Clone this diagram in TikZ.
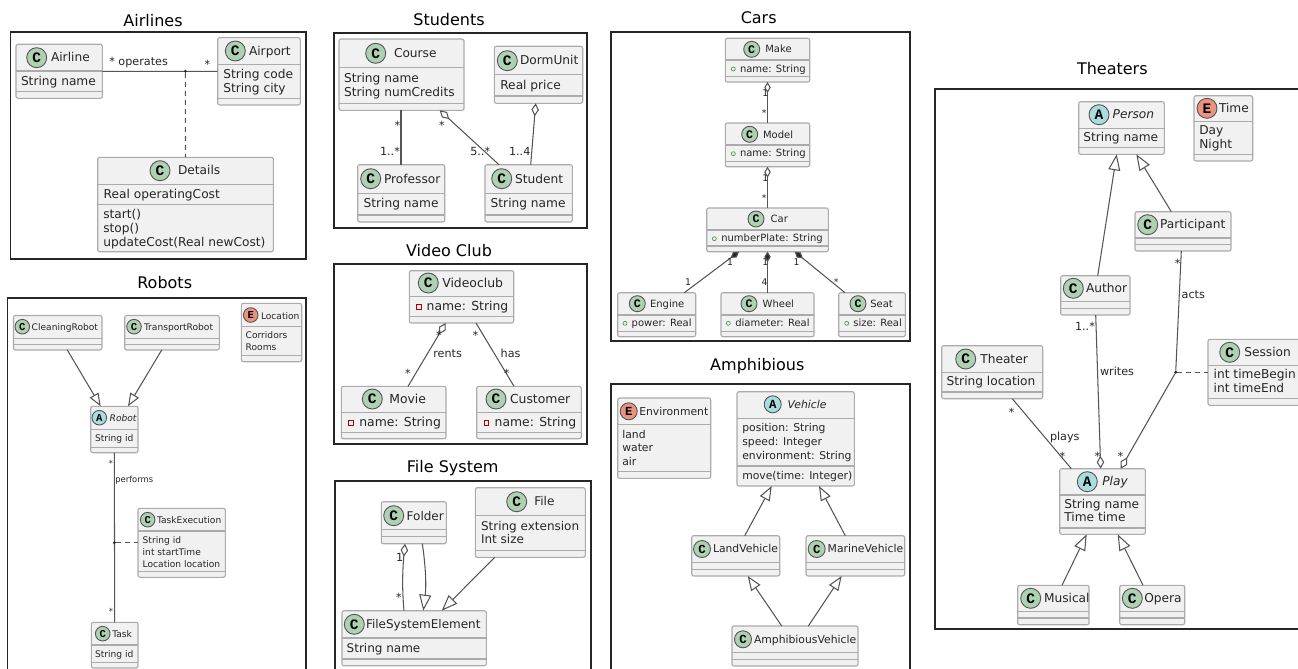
\documentclass[tikz,border=0pt]{standalone}
\usepackage{fontspec}
\setmainfont{DejaVu Sans}
\newfontfamily\spotfont{Liberation Mono}
\usetikzlibrary{arrows.meta,calc}
\definecolor{boxfill}{HTML}{F1F1F1}
\definecolor{boxline}{HTML}{ABABAB}
\definecolor{conline}{HTML}{555555}
\definecolor{inktext}{HTML}{262626}
\definecolor{spotC}{HTML}{ADD1B2}
\definecolor{spotA}{HTML}{A9DCDF}
\definecolor{spotE}{HTML}{EB937F}
\newcounter{ulabn}
\newcommand\fsel[1]{\fontsize{#1}{#1}\selectfont}
\tikzset{
  umlbox/.style={draw=boxline,fill=boxfill,line width=1.1pt,rounded corners=2pt,inner sep=0pt,outer sep=0pt},
  umlsep/.style={draw=boxline,line width=1.1pt},
  spot/.style={circle,draw=conline,line width=.9pt,inner sep=0pt,outer sep=0pt,text=black},
  utext/.style={inner sep=0pt,outer sep=0pt,text=inktext,anchor=base west},
  frame/.style={draw=black!85,line width=1.7pt},
  con/.style={draw=conline,line width=1.05pt},
  dashcon/.style={con,dash pattern=on 5pt off 4pt},
  assocdot/.style={circle,fill=black!85,minimum size=3.2pt,inner sep=0pt,outer sep=0pt},
  genS/.style={-{Triangle[open,fill=white,length=13pt,width=10pt]}},
  genM/.style={-{Triangle[open,fill=white,length=14.5pt,width=11pt]}},
  genL/.style={-{Triangle[open,fill=white,length=16pt,width=12pt]}},
  aggL/.style={{Diamond[open,fill=white,length=13pt,width=7.5pt]}-},
  aggM/.style={{Diamond[open,fill=white,length=11pt,width=6.5pt]}-},
  compM/.style={{Diamond[fill=black!85,length=10.5pt,width=6.5pt]}-},
}
% x1 y1 x2 y2 sep1 sep2
\newcommand\ubox[7]{%
  \pgfmathsetmacro\uw{#4-#2}\pgfmathsetmacro\uh{#5-#3}%
  \pgfmathsetmacro\ucx{(#4+#2)/2}\pgfmathsetmacro\ucy{(#5+#3)/2}%
  \node[umlbox,minimum width=\uw pt,minimum height=\uh pt] (#1) at (\ucx,\ucy) {};
  \draw[umlsep] (#1.west |- 0,#6) -- (#1.east |- 0,#6);
  \draw[umlsep] (#1.west |- 0,#7) -- (#1.east |- 0,#7);
}
% name letter cx cy titlex baseline title
\newcommand\uhead[7]{%
  \pgfmathsetmacro\ud{2*\rad}\pgfmathsetmacro\ulet{1.45*\rad}%
  \node[spot,fill=spot#2,minimum size=\ud pt,font=\spotfont\bfseries\fsel{\ulet}] (#1-spot) at (#3,#4) {#2};
  \node[utext,font=\fsel{\fsz}] (#1-title) at (#5,#6) {#7};
}
\newcommand\umem[3]{\stepcounter{ulabn}\node[utext,font=\fsel{\fsz}] (m\arabic{ulabn}) at (#1,#2) {#3};}
\newcommand\ulab[3]{\stepcounter{ulabn}\node[utext,font=\fsel{\lsz}] (m\arabic{ulabn}) at (#1,#2) {#3};}
\newcommand\ustar[2]{\stepcounter{ulabn}\pgfmathsetmacro\uby{#2+0.5*\lsz}\node[inner sep=0pt,outer sep=0pt,text=inktext,anchor=base,font=\fsel{\lsz}] (m\arabic{ulabn}) at (#1,\uby) {*};}
\newcommand\uprivate[2]{\stepcounter{ulabn}\node[draw=red!70!black,line width=.7pt,fill=none,minimum size=4.6pt,inner sep=0pt] (m\arabic{ulabn}) at (#1,#2) {};}
\newcommand\upublic[2]{\stepcounter{ulabn}\node[circle,draw=green!45!black!70,line width=.7pt,fill=none,minimum size=4pt,inner sep=0pt] (m\arabic{ulabn}) at (#1,#2) {};}
\newcommand\utitle[3]{\stepcounter{ulabn}\pgfmathsetmacro\uby{#2+5.7}\node[inner sep=0pt,outer sep=0pt,text=black,anchor=base,font=\fsel{16}] (t\arabic{ulabn}) at (#1,\uby) {#3};}
\begin{document}
\begin{tikzpicture}[x=1pt,y=-1pt]
\useasboundingbox (0,0) rectangle (1298,669);
\clip (0,0) rectangle (1298,669);
\fill[white] (0,0) rectangle (1298,669);

%%%% Airlines
\def\fsz{12.2}\def\lsz{11.2}\def\rad{10}
\utitle{153}{21}{Airlines}
\draw[frame] (10.5,32) rectangle (306,259);
\ubox{airline}{16}{44.3}{102.3}{98.3}{71}{91.7}
\uhead{airline}{C}{36.7}{57.7}{51}{62}{Airline}
\umem{21}{85.7}{String name}
\ubox{airport}{217.7}{37.7}{300.3}{105}{64.7}{98.3}
\uhead{airport}{C}{235.3}{51}{249}{55.3}{Airport}
\umem{223.3}{78.7}{String code}
\umem{223.3}{92.3}{String city}
\ubox{details}{97.7}{157.3}{273.3}{251.7}{184.3}{204.3}
\uhead{details}{C}{160}{170.7}{178}{174.7}{Details}
\umem{103.7}{198}{Real operatingCost}
\umem{103.3}{218}{start()}
\umem{103.3}{232}{stop()}
\umem{103.3}{246}{updateCost(Real newCost)}
\draw[con] (airline.east) -- (airport.west);
\node[assocdot] (airdot) at (185.4,71.3) {};
\draw[dashcon] (airdot) -- (details.north);
\ulab{109.3}{66}{* operates}
\ustar{207.3}{63.3}

%%%% Robots
\def\fsz{9.1}\def\lsz{8.4}\def\rad{7.3}
\utitle{164.7}{283}{Robots}
\draw[frame] (7.5,297.7) rectangle (306,690);
\ubox{cleaning}{13.5}{315.5}{102}{350}{338.7}{344.7}
\uhead{cleaning}{C}{22.3}{326.7}{31.7}{330}{CleaningRobot}
\ubox{transport}{124.7}{315.5}{219.3}{350}{338.7}{344.7}
\uhead{transport}{C}{134}{326.7}{144}{330}{TransportRobot}
\ubox{location}{241.3}{303.3}{301.7}{361.7}{326.3}{355.7}
\uhead{location}{E}{250.7}{315}{261}{319}{Location}
\umem{245.7}{338.7}{Corridors}
\umem{245.7}{350.3}{Rooms}
\ubox{robot}{90.7}{406.3}{138}{452.7}{429.3}{447.3}
\uhead{robot}{A}{99.3}{417.7}{109.7}{421.7}{\itshape Robot}
\umem{95}{441.7}{String id}
\ubox{taskexec}{138}{508.3}{225.3}{577.3}{531}{571.3}
\uhead{taskexec}{C}{147.7}{519.7}{157}{523.3}{TaskExecution}
\umem{142.7}{543.3}{String id}
\umem{142.7}{555}{int startTime}
\umem{142.7}{567.3}{Location location}
\ubox{task}{91.3}{622.3}{138}{668}{645}{662.7}
\uhead{task}{C}{102.7}{633.7}{112.3}{637.7}{Task}
\umem{95}{657.7}{String id}
\draw[con,genS] (67.3,0 |- cleaning.south) -- (100.7,0 |- robot.north);
\draw[con,genS] (161.7,0 |- transport.south) -- (128,0 |- robot.north);
\draw[con] (robot.south) -- (task.north);
\node[assocdot] (robdot) at (114.4,542.7) {};
\draw[dashcon] (robdot) -- (taskexec.west |- robdot);
\ustar{111}{462}
\ulab{115.3}{482.7}{performs}
\ustar{111}{610}

%%%% Students
\def\fsz{12.2}\def\lsz{11.2}\def\rad{10}
\utitle{449}{20}{Students}
\draw[frame] (334,32.7) rectangle (586.7,227.7);
\ubox{course}{339}{39}{464}{110.3}{67.3}{103.3}
\uhead{course}{C}{375.7}{53.3}{394}{57.3}{Course}
\umem{344}{82}{String name}
\umem{344}{96}{String numCredits}
\ubox{dorm}{494.3}{46.3}{582.7}{103.3}{74.7}{96}
\uhead{dorm}{C}{507.3}{60.7}{520}{65}{DormUnit}
\umem{500.3}{89.3}{Real price}
\ubox{professor}{357.7}{164.7}{444.7}{222}{193.3}{215}
\uhead{professor}{C}{370.7}{178.7}{384}{183.3}{Professor}
\umem{363.7}{207.3}{String name}
\ubox{student}{485}{164.7}{572.3}{222}{193.3}{215}
\uhead{student}{C}{501.7}{178.7}{515}{183.3}{Student}
\umem{490.7}{207.3}{String name}
\draw[con] (401,0 |- course.south) -- (401,0 |- professor.north);
\draw[con,aggL] (439.7,0 |- course.south) -- (499,0 |- student.north);
\draw[con,aggL] (535.7,0 |- dorm.south) -- (530.7,0 |- student.north);
\ustar{397.3}{123.7}
\ulab{380}{155}{1..*}
\ustar{442}{123.7}
\ulab{470.3}{155}{5..*}
\ulab{509}{155}{1..4}

%%%% Video Club
\def\fsz{12.4}
\utitle{449}{250.3}{Video Club}
\draw[frame] (334,263.7) rectangle (586.7,444);
\ubox{videoclub}{409.3}{270.7}{513.7}{323}{296.7}{316.7}
\uhead{videoclub}{C}{428.3}{283}{442.3}{287.3}{Videoclub}
\uprivate{419}{307}
\umem{426.7}{310.3}{name: String}
\ubox{movie}{341.3}{386.3}{446}{438.7}{412.3}{432.3}
\uhead{movie}{C}{372.3}{399}{389.3}{403.3}{Movie}
\uprivate{351}{422.7}
\umem{359.3}{426.3}{name: String}
\ubox{customer}{476.7}{386.3}{581.3}{438.7}{412.3}{432.3}
\uhead{customer}{C}{496}{399}{510}{403.3}{Customer}
\uprivate{486.3}{422.7}
\umem{494.7}{426.3}{name: String}
\draw[con,aggL] (445.7,0 |- videoclub.south) -- (408,0 |- movie.north);
\draw[con] (476,0 |- videoclub.south) -- (514,0 |- customer.north);
\ustar{439}{334}
\ulab{433.3}{357.3}{rents}
\ustar{408}{372}
\ustar{475.3}{334}
\ulab{500.7}{357.3}{has}
\ustar{506.7}{372}

%%%% File System
\def\fsz{12}
\utitle{452.7}{466.7}{File System}
\draw[frame] (334.7,481) rectangle (591,690);
\ubox{folder}{381.3}{501.7}{446.3}{543.7}{529.7}{536.7}
\uhead{folder}{C}{393.7}{515.7}{406.7}{520}{Folder}
\ubox{file}{475.3}{487.7}{585.3}{557.3}{515.3}{550.3}
\uhead{file}{C}{516.7}{501.7}{534.3}{505.7}{File}
\umem{481}{530}{String extension}
\umem{481}{543.7}{Int size}
\ubox{fse}{342}{610.7}{486.3}{665.7}{638}{659}
\uhead{fse}{C}{354.3}{624.3}{366}{628.3}{FileSystemElement}
\umem{346.7}{652.3}{String name}
\draw[con,aggL] (405,0 |- folder.south) .. controls (402.5,570) and (402,590) .. (404,0 |- fse.north);
\draw[con,genL] (422.3,0 |- folder.south) .. controls (425.5,565) and (426.5,585) .. (423.3,0 |- fse.north);
\draw[con,genL] (494.7,0 |- file.south) -- (441.7,0 |- fse.north);
\ulab{396}{561.7}{1}
\ustar{399}{595.7}

%%%% Cars
\def\fsz{10}\def\lsz{9.3}\def\rad{8}
\utitle{758.7}{18.3}{Cars}
\draw[frame] (611.3,32.3) rectangle (909.7,340.7);
\ubox{make}{725.3}{38.3}{809.7}{82}{60}{76.3}
\uhead{make}{C}{751.7}{49.3}{765.3}{52.7}{Make}
\upublic{733.3}{69}
\umem{740}{72}{name: String}
\ubox{model}{725.3}{123}{809.7}{166.7}{145}{161.3}
\uhead{model}{C}{749.7}{134.3}{763}{138}{Model}
\upublic{733.3}{153.7}
\umem{740}{156.7}{name: String}
\ubox{car}{706.7}{208}{828.3}{251.7}{230}{246}
\uhead{car}{C}{756}{219}{770.7}{222.7}{Car}
\upublic{714.3}{238.7}
\umem{721.3}{241.3}{numberPlate: String}
\ubox{engine}{617.7}{292.7}{695.7}{336.7}{315}{331.3}
\uhead{engine}{C}{637.3}{303.7}{650}{307.3}{Engine}
\upublic{625}{323.3}
\umem{631.7}{326}{power: Real}
\ubox{wheel}{721}{292.7}{814}{336.7}{315}{331.3}
\uhead{wheel}{C}{749}{303.7}{762.7}{307.3}{Wheel}
\upublic{728.3}{323.3}
\umem{735.3}{326}{diameter: Real}
\ubox{seat}{838.7}{292.7}{905.3}{336.7}{315}{331.3}
\uhead{seat}{C}{858}{303.7}{870.3}{307.3}{Seat}
\upublic{846.7}{323.3}
\umem{853.3}{326}{size: Real}
\draw[con,aggM] (make.south) -- (model.north);
\draw[con,aggM] (model.south) -- (car.north);
\draw[con,compM] (739,0 |- car.south) -- (684.3,0 |- engine.north);
\draw[con,compM] (car.south) -- (wheel.north);
\draw[con,compM] (794.7,0 |- car.south) -- (845,0 |- seat.north);
\ulab{762.3}{96}{1}
\ustar{764.3}{111.7}
\ulab{762.3}{181}{1}
\ustar{764.3}{196.7}
\ulab{727}{265.3}{1}
\ulab{685}{285.3}{1}
\ulab{762.3}{265.3}{1}
\ulab{761.7}{285.3}{4}
\ulab{793.7}{265.3}{1}
\ustar{836.3}{281}

%%%% Amphibious
\def\fsz{10.8}\def\rad{8.5}
\utitle{757.3}{364.3}{Amphibious}
\draw[frame] (611.3,384.3) rectangle (909.7,690);
\ubox{environment}{617.7}{398}{710.7}{478.3}{424.7}{471.7}
\uhead{environment}{E}{628.7}{411.3}{639.3}{415}{Environment}
\umem{622.3}{438.3}{land}
\umem{622.3}{451.7}{water}
\umem{622.3}{465.7}{air}
\ubox{vehicle}{737}{391.7}{854.3}{486}{418.7}{466}
\uhead{vehicle}{A}{772.7}{404.3}{787.7}{408}{\itshape Vehicle}
\umem{742.3}{431.7}{position: String}
\umem{742.3}{445.3}{speed: Integer}
\umem{742.3}{459.3}{environment: String}
\umem{742.3}{479.3}{move(time: Integer)}
\ubox{land}{691.7}{535.7}{779.7}{576}{562.3}{569.3}
\uhead{land}{C}{702}{549}{713}{552.7}{LandVehicle}
\ubox{marine}{806}{535.7}{904.7}{576}{562.3}{569.3}
\uhead{marine}{C}{816.7}{549}{827.7}{552.7}{MarineVehicle}
\ubox{amph}{732}{626}{858}{666}{652.7}{659.3}
\uhead{amph}{C}{743}{639.3}{754}{643.3}{AmphibiousVehicle}
\draw[con,genM] (744.7,0 |- land.north) -- (771.7,0 |- vehicle.south);
\draw[con,genM] (845.3,0 |- marine.north) -- (819,0 |- vehicle.south);
\draw[con,genM] (781.7,0 |- amph.north) -- (747.7,0 |- land.south);
\draw[con,genM] (808.3,0 |- amph.north) -- (841.7,0 |- marine.south);

%%%% Theaters
\def\fsz{12.2}\def\lsz{11.2}\def\rad{10}
\utitle{1112.3}{69}{Theaters}
\draw[frame] (934.7,88.7) rectangle (1320,629.3);
\ubox{person}{1078.7}{101.7}{1164.3}{154.3}{128.7}{147.3}
\uhead{person}{A}{1099}{114.7}{1112.7}{118.7}{\itshape Person}
\umem{1083.3}{141.7}{String name}
\ubox{time}{1194}{95.7}{1252.7}{161}{121.3}{154.3}
\uhead{time}{E}{1207}{108.3}{1219}{112}{Time}
\umem{1199.3}{134.7}{Day}
\umem{1199.3}{148}{Night}
\ubox{participant}{1135}{211.7}{1231}{251}{238}{244.7}
\uhead{participant}{C}{1147.7}{224.7}{1160}{228.7}{Participant}
\ubox{author}{1060.7}{275.7}{1130}{315}{301.7}{308.3}
\uhead{author}{C}{1073.3}{288.3}{1086}{292.3}{Author}
\ubox{theater}{941.7}{345.7}{1042.7}{398.7}{372.3}{392}
\uhead{theater}{C}{965.7}{359}{980.3}{363}{Theater}
\umem{946.7}{385.7}{String location}
\ubox{session}{1208}{339.3}{1303}{405.3}{365.3}{398.7}
\uhead{session}{C}{1229.7}{352.3}{1244.3}{356.3}{Session}
\umem{1213.7}{378.7}{int timeBegin}
\umem{1213.7}{392.3}{int timeEnd}
\ubox{play}{1059.7}{468.7}{1145.3}{534.3}{495}{528}
\uhead{play}{A}{1087.3}{481.7}{1102.3}{485.7}{\itshape Play}
\umem{1064.3}{508.7}{String name}
\umem{1064.3}{521.7}{Time time}
\ubox{musical}{1017.7}{585.3}{1089}{624.7}{611.3}{618}
\uhead{musical}{C}{1030.7}{598.3}{1044}{602.3}{Musical}
\ubox{opera}{1119.7}{585.3}{1184.7}{624.7}{611.3}{618}
\uhead{opera}{C}{1132.3}{598.3}{1144.3}{602.3}{Opera}
\draw[con,genL] (1097.7,0 |- author.north) -- (1116.7,0 |- person.south);
\draw[con,genL] (1171.3,0 |- participant.north) -- (1136.3,0 |- person.south);
\draw[con,aggL] (1100.7,0 |- play.north) -- (1095.7,0 |- author.south);
\node[assocdot] (thdot) at (1175.7,372.3) {};
\draw[con] (1181.3,0 |- participant.south) -- (thdot);
\draw[con,aggL] (1120.7,0 |- play.north) -- (thdot);
\draw[dashcon] (thdot) -- (session.west |- thdot);
\draw[con] (1012.3,0 |- theater.south) -- (1071.3,0 |- play.north);
\draw[con,genL] (1062,0 |- musical.north) -- (1086.7,0 |- play.south);
\draw[con,genL] (1143,0 |- opera.north) -- (1117.7,0 |- play.south);
\ustar{1177.7}{262.3}
\ulab{1181.7}{298.7}{acts}
\ulab{1075}{330.7}{1..*}
\ulab{1100}{375.7}{writes}
\ustar{1011.7}{410.7}
\ulab{1050}{440.7}{plays}
\ustar{1062.3}{455}
\ustar{1097.3}{455}
\ustar{1120.3}{455}
\end{tikzpicture}
\end{document}
